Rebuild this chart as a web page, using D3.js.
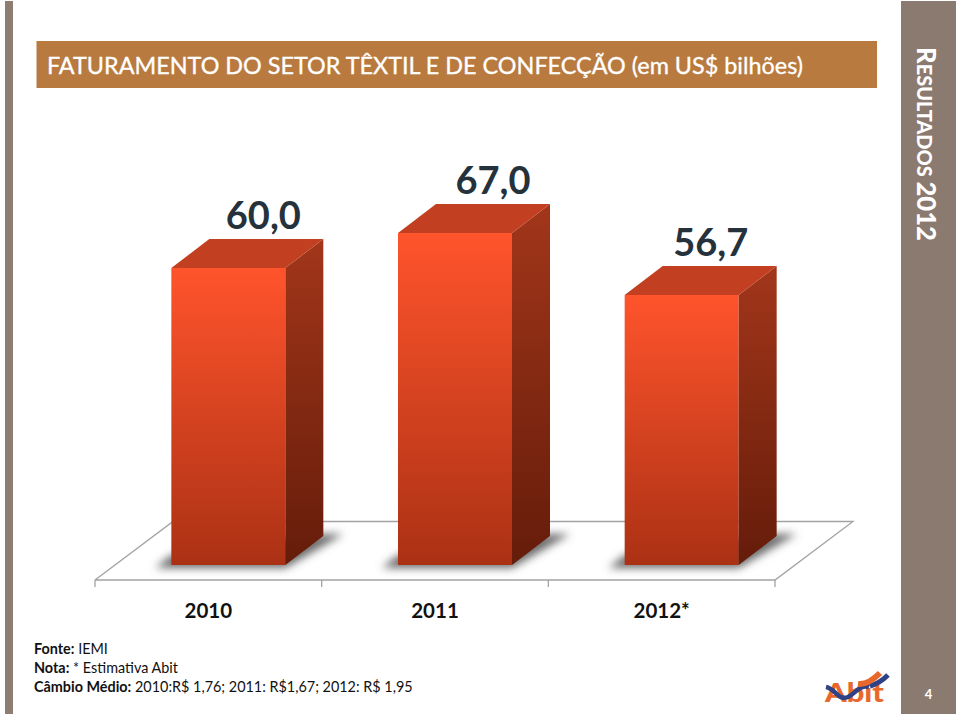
<!DOCTYPE html>
<html><head><meta charset="utf-8">
<style>html,body{margin:0;padding:0;background:#fff}svg{display:block}text{font-family:Lato,sans-serif}</style>
<script src="https://cdn.jsdelivr.net/npm/d3@7"></script>
</head><body><svg id="c" width="960" height="716"></svg>
<script>
const categories = ["2010","2011","2012*"];
const values = [60.0,67.0,56.7];
const valueLabels = ["60,0","67,0","56,7"];
const titleText = "FATURAMENTO DO SETOR TÊXTIL E DE CONFECÇÃO (em US$ bilhões)";
const notes = [["Fonte:"," IEMI"],["Nota:"," * Estimativa Abit"],["Câmbio Médio:"," 2010:R$ 1,76; 2011: R$1,67; 2012: R$ 1,95"]];

const svg = d3.select("#c");
const defs = svg.append("defs");
function grad(id,c0,c1){const g=defs.append("linearGradient").attr("id",id).attr("x1",0).attr("x2",0).attr("y1",0).attr("y2",1);
  g.append("stop").attr("offset",0).attr("stop-color",c0);g.append("stop").attr("offset",1).attr("stop-color",c1);}
grad("front","#ff542c","#ab3114");grad("side","#a2361a","#651c0a");
defs.append("filter").attr("id","blur").attr("x","-30%").attr("y","-60%").attr("width","160%").attr("height","220%")
  .append("feGaussianBlur").attr("stdDeviation",4);

// the source chart's bars are not proportional, so the scale follows the bars as drawn
const y = d3.scaleLinear().domain([0,56.7,60,67]).range([565,295,268,233]);
const x = d3.scaleBand().domain(categories).range([95,775]).paddingInner(0).paddingOuter(0);
const depthX=38, depthY=-29, barW=114, floorDX=78, floorDY=-58.5, floorY=580;

// panels
svg.append("rect").attr("x",5).attr("y",1).attr("width",8).attr("height",713).attr("fill","#8d7d72");
svg.append("rect").attr("x",901).attr("y",1).attr("width",55).attr("height",713).attr("fill","#8b7a6f");
svg.append("rect").attr("x",36.5).attr("y",41).attr("width",840.5).attr("height",47).attr("fill","#b87a3e");
svg.append("text").attr("x",47).attr("y",74).attr("fill","#fff").attr("stroke","#fff").attr("stroke-width",0.35).attr("font-size",24).attr("textLength",756).attr("lengthAdjust","spacingAndGlyphs").text(titleText);

// rotated side label
const side=svg.append("text").attr("transform","translate(917,47) rotate(90)").attr("fill","#fff").attr("font-weight",900).attr("font-size",27).attr("textLength",194).attr("lengthAdjust","spacingAndGlyphs");
side.append("tspan").text("R");
side.append("tspan").attr("font-size",21).text("ESULTADOS ");
side.append("tspan").text("2012");
svg.append("text").attr("x",928.5).attr("y",699).attr("text-anchor","middle").attr("fill","#fff").attr("font-weight",700).attr("font-size",13).text("4");

// floor
const [x0,x1]=x.range();
svg.append("path").attr("fill","none").attr("stroke","#a2a2a2").attr("stroke-width",1.3)
  .attr("d",d3.line()([[x0,floorY],[x0+floorDX,floorY+floorDY],[x1+floorDX,floorY+floorDY],[x1,floorY],[x0,floorY]]));
const axis=d3.axisBottom(x).tickSize(0).tickPadding(23).tickFormat(d=>d);
const ax=svg.append("g").attr("transform",`translate(0,${floorY})`).call(axis);
ax.select(".domain").remove();
ax.selectAll(".tick text").attr("font-size",20.5).attr("font-weight",700).attr("fill","#111").attr("font-family","Lato,sans-serif");
ax.selectAll(".bnd").data(categories.map(c=>x(c)).concat([x1])).join("line").attr("x1",d=>d).attr("x2",d=>d).attr("y1",0).attr("y2",7).attr("stroke","#a2a2a2").attr("stroke-width",1.3);

const bars=svg.selectAll(".bar").data(categories.map((c,i)=>({c,v:values[i],l:valueLabels[i],i}))).join("g").attr("class","bar");
const bx=d=>x(d.c)+x.bandwidth()/2+20-barW/2;
const pts=a=>d3.line()(a)+"Z";
// ground shadow
bars.append("path").attr("filter","url(#blur)").attr("fill","#6a6a6a")
  .attr("d",d=>{const a=bx(d),b=y(0);return pts([[a-16,b+3],[a+barW,b+3],[a+barW+depthX+20,b+depthY-2],[a+barW+depthX,b+depthY-2],[a,b-10]]);});
// front
bars.append("rect").attr("x",bx).attr("y",d=>y(d.v)).attr("width",barW).attr("height",d=>y(0)-y(d.v)).attr("fill","url(#front)");
bars.append("path").attr("fill","url(#side)").attr("d",d=>{const a=bx(d)+barW;return pts([[a,y(d.v)],[a+depthX,y(d.v)+depthY],[a+depthX,y(0)+depthY],[a,y(0)]]);});
bars.append("path").attr("fill","#c24021").attr("d",d=>{const a=bx(d);return pts([[a,y(d.v)],[a+depthX,y(d.v)+depthY],[a+barW+depthX,y(d.v)+depthY],[a+barW,y(d.v)]]);});
// value labels sit slightly off-centre in the source, differently per bar
const labelOffset=d=>({0:92,1:95,2:86})[d.i];
bars.append("text").attr("x",d=>bx(d)+labelOffset(d)).attr("y",d=>y(d.v)-39).attr("text-anchor","middle").attr("font-size",38).attr("font-weight",700).attr("fill","#25323b").text(d=>d.l);

// notes
const ny=d3.scalePoint().domain(notes.map(n=>n[0])).range([654,692]);
const nt=svg.selectAll(".note").data(notes).join("text").attr("class","note").attr("x",34).attr("y",d=>ny(d[0])).attr("font-size",14.4).attr("fill","#111");
nt.append("tspan").attr("font-weight",700).text(d=>d[0]);
nt.append("tspan").text(d=>d[1]);

// logo
const lg=svg.append("g");
lg.append("text").attr("x",825).attr("y",702).attr("font-size",26).attr("font-weight",900).attr("fill","#e8682c").attr("textLength",59).attr("lengthAdjust","spacingAndGlyphs").text("Abit");
lg.append("path").attr("fill","none").attr("stroke","#2f4286").attr("stroke-width",4.5).attr("d","M826,687 C836,689 838,701 848,697 C856,693 860,684 869,687");
lg.append("path").attr("fill","none").attr("stroke","#2f4286").attr("stroke-width",5).attr("d","M870,686 C877,684 883,680 888,675");
lg.append("path").attr("fill","none").attr("stroke","#e8682c").attr("stroke-width",6).attr("d","M858,684 C866,685 873,680 880,673");
</script></body></html>
